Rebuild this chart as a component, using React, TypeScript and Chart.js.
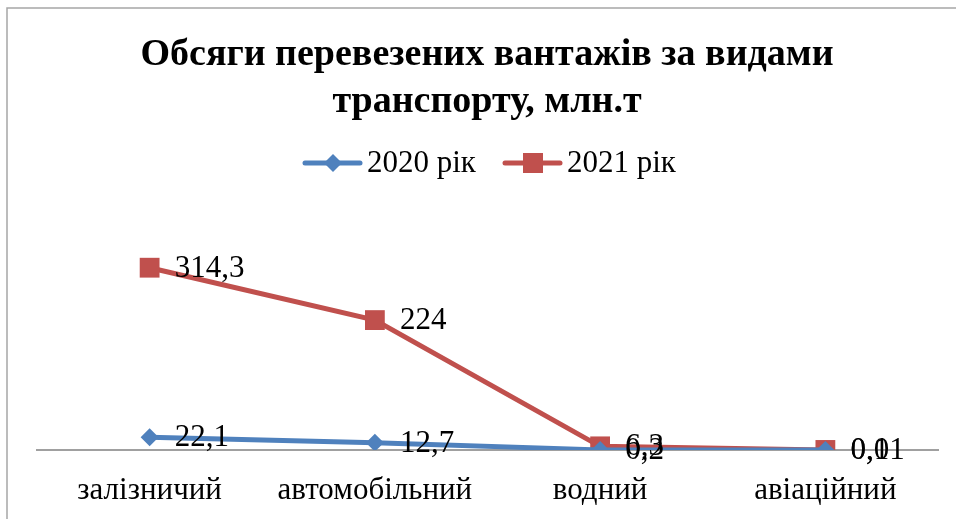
import React, { useEffect, useRef } from "react";
import { Chart, registerables } from "chart.js";

Chart.register(...registerables);

const categories = ["залізничий", "автомобільний", "водний", "авіаційний"];
const series2020 = [22.1, 12.7, 0.2, 0.01];
const series2021 = [314.3, 224, 6.3, 0.1];
const labels2020 = ["22,1", "12,7", "0,2", "0,01"];
const labels2021 = ["314,3", "224", "6,3", "0,1"];
const seriesNames = ["2020 рік", "2021 рік"];
const titleLines = ["Обсяги перевезених вантажів за видами", "транспорту, млн.т"];

const BLUE = "#4F81BD";
const RED = "#C0504D";
const SERIF = "'Liberation Serif', 'Times New Roman', serif";
const FS = 31;

export default function App() {
  const ref = useRef<HTMLCanvasElement>(null);
  useEffect(() => {
    const canvas = ref.current!;
    const decor = {
      id: "decor",
      beforeDraw(chart: any) {
        const ctx = chart.ctx;
        ctx.save();
        ctx.fillStyle = "#fff";
        ctx.fillRect(0, 0, chart.width, chart.height);
        ctx.strokeStyle = "#a6a6a6";
        ctx.lineWidth = 1.5;
        ctx.strokeRect(7, 8, 1000, 600);
        ctx.restore();
      },
      afterDraw(chart: any) {
        const ctx = chart.ctx;
        ctx.save();
        // title
        ctx.fillStyle = "#000";
        ctx.font = `bold 38px ${SERIF}`;
        ctx.textAlign = "center";
        ctx.textBaseline = "middle";
        ctx.fillText(titleLines[0], 487, 55);
        ctx.fillText(titleLines[1], 487, 102);
        // legend
        const items = [
          { x: 305, color: BLUE, style: "diamond", name: seriesNames[0] },
          { x: 505, color: RED, style: "square", name: seriesNames[1] },
        ];
        const ly = 163;
        for (const it of items) {
          ctx.strokeStyle = it.color;
          ctx.lineWidth = 5;
          ctx.lineCap = "round";
          ctx.beginPath();
          ctx.moveTo(it.x, ly);
          ctx.lineTo(it.x + 55, ly);
          ctx.stroke();
          ctx.fillStyle = it.color;
          const cx = it.x + 28;
          if (it.style === "diamond") {
            ctx.beginPath();
            ctx.moveTo(cx, ly - 9);
            ctx.lineTo(cx + 9, ly);
            ctx.lineTo(cx, ly + 9);
            ctx.lineTo(cx - 9, ly);
            ctx.closePath();
            ctx.fill();
          } else {
            ctx.fillRect(cx - 10, ly - 10, 20, 20);
          }
          ctx.fillStyle = "#000";
          ctx.font = `${FS}px ${SERIF}`;
          ctx.textAlign = "left";
          ctx.fillText(it.name, it.x + 62, ly + 1);
        }
        // data labels
        const allLabels = [labels2020, labels2021];
        ctx.font = `${FS}px ${SERIF}`;
        ctx.textAlign = "left";
        ctx.textBaseline = "middle";
        ctx.fillStyle = "#000";
        chart.data.datasets.forEach((_: any, di: number) => {
          const meta = chart.getDatasetMeta(di);
          meta.data.forEach((pt: any, i: number) => {
            ctx.fillText(allLabels[di][i], pt.x + 25, pt.y + 1);
          });
        });
        ctx.restore();
      },
    };
    const chart = new Chart(canvas, {
      type: "line",
      data: {
        labels: categories,
        datasets: [
          {
            label: seriesNames[0],
            data: series2020,
            borderColor: BLUE,
            backgroundColor: BLUE,
            borderWidth: 5,
            pointStyle: "rectRot",
            pointRadius: 9,
            pointBorderWidth: 0,
            pointBackgroundColor: BLUE,
            tension: 0,
          },
          {
            label: seriesNames[1],
            data: series2021,
            borderColor: RED,
            backgroundColor: RED,
            borderWidth: 5,
            pointStyle: "rect",
            pointRadius: 14,
            pointBorderWidth: 0,
            pointBackgroundColor: RED,
            tension: 0,
          },
        ],
      },
      options: {
        animation: false,
        responsive: false,
        layout: { padding: { top: 247, left: 37, right: 18, bottom: 0 } },
        plugins: { legend: { display: false }, title: { display: false }, tooltip: { enabled: false } },
        scales: {
          x: {
            offset: true,
            grid: { display: false, drawTicks: false },
            border: { display: true, color: "#a0a0a0", width: 2 },
            ticks: { color: "#000", font: { family: SERIF, size: FS }, padding: 22, maxRotation: 0 },
            afterFit: (s: any) => { s.height = 69; },
          },
          y: {
            display: false,
            min: 0,
            max: 350,
          },
        },
      },
      plugins: [decor],
    } as any);
    return () => chart.destroy();
  }, []);
  return (
    <div style={{ position: "absolute", left: 0, top: 0, width: 956, height: 519 }}>
      <canvas ref={ref} width={956} height={519} style={{ display: "block" }} />
    </div>
  );
}
